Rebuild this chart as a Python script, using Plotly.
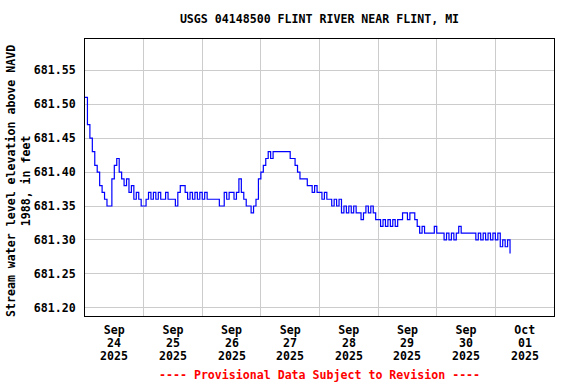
import pandas as pd
import plotly.graph_objects as go

# Hourly gage height readings (ft, NAVD 1988), starting 2025-09-24 00:00
sep24 = [681.51, 681.47, 681.45, 681.43, 681.41, 681.40, 681.38, 681.37, 681.36, 681.35,
         681.35, 681.39, 681.41, 681.42, 681.40, 681.39, 681.38, 681.39, 681.37, 681.38,
         681.36, 681.37, 681.36, 681.35]
sep25 = [681.35, 681.36, 681.37, 681.36, 681.37, 681.36, 681.37, 681.36, 681.36, 681.37,
         681.36, 681.36, 681.36, 681.35, 681.37, 681.38, 681.38, 681.37, 681.36, 681.37,
         681.36, 681.37, 681.36, 681.37]
sep26 = [681.36, 681.37, 681.36, 681.36, 681.36, 681.36, 681.36, 681.35, 681.35, 681.37,
         681.36, 681.37, 681.37, 681.36, 681.37, 681.39, 681.37, 681.36, 681.35, 681.35,
         681.34, 681.35, 681.36, 681.39]
sep27 = [681.40, 681.41, 681.42, 681.43, 681.42, 681.43, 681.43, 681.43, 681.43, 681.43,
         681.43, 681.43, 681.42, 681.42, 681.41, 681.40, 681.39, 681.39, 681.39, 681.38,
         681.38, 681.37, 681.38, 681.37]
sep28 = [681.37, 681.36, 681.37, 681.36, 681.36, 681.35, 681.36, 681.35, 681.36, 681.34,
         681.35, 681.34, 681.35, 681.34, 681.35, 681.34, 681.34, 681.33, 681.34, 681.35,
         681.34, 681.35, 681.34, 681.33]
sep29 = [681.33, 681.32, 681.33, 681.32, 681.33, 681.32, 681.33, 681.32, 681.33, 681.33,
         681.34, 681.34, 681.33, 681.34, 681.34, 681.33, 681.32, 681.31, 681.32, 681.31,
         681.31, 681.31, 681.31, 681.32]
sep30 = [681.31, 681.31, 681.31, 681.30, 681.31, 681.30, 681.31, 681.30, 681.31, 681.32,
         681.31, 681.31, 681.31, 681.31, 681.31, 681.31, 681.30, 681.31, 681.30, 681.31,
         681.30, 681.31, 681.30, 681.31]
oct01 = [681.30, 681.31, 681.29, 681.30, 681.29, 681.30, 681.28]

elev = sep24 + sep25 + sep26 + sep27 + sep28 + sep29 + sep30 + oct01
times = pd.date_range("2025-09-24 00:00", periods=len(elev), freq="h")

# x tick labels, one row each (month / day / year), centred under each day
month_labels = ["Sep", "Sep", "Sep", "Sep", "Sep", "Sep", "Sep", "Oct"]
day_labels = ["24", "25", "26", "27", "28", "29", "30", "01"]
year_labels = ["2025"] * 8
day_centers = pd.date_range("2025-09-24 12:00", periods=len(day_labels), freq="D")
x_range = ["2025-09-24 00:00", "2025-10-02 00:00"]

title_text = "USGS 04148500 FLINT RIVER NEAR FLINT, MI"
ytitle_text = "Stream water level elevation above NAVD<br>1988, in feet"
note_text = "---- Provisional Data Subject to Revision ----"

FONT = "DejaVu Sans Mono"
FS = 11.6
bold = dict(family=FONT, size=FS, color="black", weight="bold")

PLOT_TOP, PLOT_BOTTOM = 39, 316
PLOT_H = PLOT_BOTTOM - PLOT_TOP


def paper_y(px):
    return (PLOT_BOTTOM - px) / PLOT_H


fig = go.Figure()
fig.add_trace(go.Scatter(x=times, y=elev, mode="lines", line=dict(color="#0000FF", width=1.2, shape="hv"),
                         showlegend=False, hoverinfo="skip"))

fig.update_layout(
    width=576, height=384,
    margin=dict(l=85, r=22, t=PLOT_TOP, b=384 - PLOT_BOTTOM),
    paper_bgcolor="white", plot_bgcolor="white",
    title=dict(text=title_text, x=0.5, xref="paper", xanchor="center", y=1 - 19 / 384, yanchor="middle",
               font=bold),
    font=dict(family=FONT, size=FS, color="black"),
    xaxis=dict(
        type="date", range=x_range,
        tickmode="array", tickvals=day_centers, ticktext=month_labels,
        ticks="", showgrid=False, tickfont=bold, ticklabelstandoff=3,
        minor=dict(tick0=x_range[0], dtick=86400000, showgrid=True, gridcolor="#CCCCCC",
                   gridwidth=1, ticks=""),
        showline=True, linecolor="black", linewidth=1, mirror=True, zeroline=False,
    ),
    yaxis=dict(
        range=[681.188, 681.596], tick0=681.20, dtick=0.05, tickformat=".2f",
        ticks="", showgrid=True, gridcolor="#CCCCCC", gridwidth=1,
        tickfont=bold, ticklabelstandoff=6,
        showline=True, linecolor="black", linewidth=1, mirror=True, zeroline=False,
    ),
)

# second and third rows of the date labels
for xc, d, yr in zip(day_centers, day_labels, year_labels):
    fig.add_annotation(text=d, xref="x", yref="paper", x=xc, y=paper_y(342.7), xanchor="center",
                       yanchor="middle", showarrow=False, font=bold)
    fig.add_annotation(text=yr, xref="x", yref="paper", x=xc, y=paper_y(356), xanchor="center",
                       yanchor="middle", showarrow=False, font=bold)

fig.add_annotation(text=ytitle_text, xref="paper", yref="paper", x=(18 - 85) / 469, y=paper_y(181),
                   xanchor="center", yanchor="middle", textangle=-90, showarrow=False, font=bold)
fig.add_annotation(text=note_text, xref="paper", yref="paper", x=0.5, y=paper_y(375),
                   xanchor="center", yanchor="middle", showarrow=False,
                   font=dict(family=FONT, size=FS, color="#FF0000", weight="bold"))

fig.write_html("out.html", config={"displayModeBar": False},
               post_script="document.body.style.margin='0';")
